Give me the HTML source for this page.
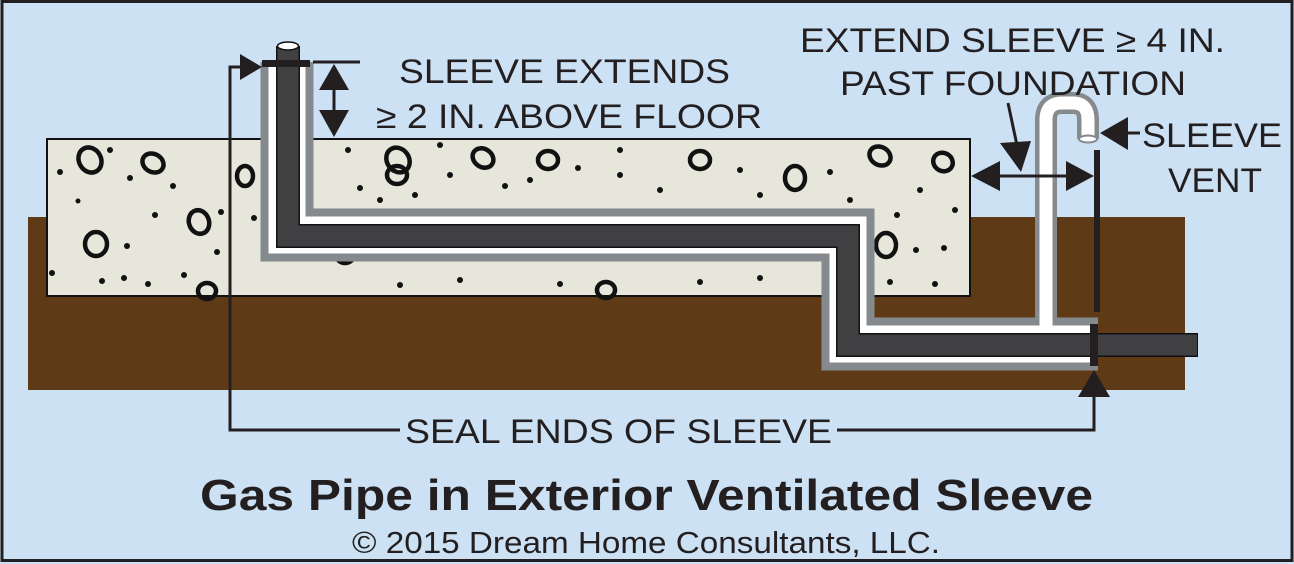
<!DOCTYPE html>
<html><head><meta charset="utf-8"><style>
html,body{margin:0;padding:0;background:#cce1f4}
svg{display:block}
text{font-family:"Liberation Sans",Arial,sans-serif;fill:#231f20}
</style></head><body>
<svg width="1294" height="564" viewBox="0 0 1294 564" xmlns="http://www.w3.org/2000/svg">
<rect x="0" y="0" width="1294" height="564" fill="#cce1f4"/>
<rect x="2" y="1.5" width="1290" height="559" fill="none" stroke="#231f20" stroke-width="3"/>
<rect x="28" y="217" width="1157" height="173" fill="#5e3a17"/>
<rect x="47" y="139" width="923" height="157" fill="#e6e6da" stroke="#111" stroke-width="2"/>
<g fill="none" stroke="#111" stroke-width="4.5">
<ellipse cx="90" cy="160" rx="11" ry="13" transform="rotate(-30 90 160)"/>
<ellipse cx="153" cy="163" rx="11" ry="9" transform="rotate(30 153 163)"/>
<ellipse cx="96" cy="244" rx="11" ry="12"/>
<ellipse cx="245" cy="176" rx="8" ry="10"/>
<ellipse cx="199" cy="222" rx="10" ry="12" transform="rotate(-20 199 222)"/>
<ellipse cx="207" cy="291" rx="9" ry="8"/>
<ellipse cx="398" cy="160" rx="11" ry="13" transform="rotate(-35 398 160)"/>
<ellipse cx="483" cy="158" rx="11" ry="9" transform="rotate(35 483 158)"/>
<ellipse cx="397" cy="175" rx="10" ry="9"/>
<ellipse cx="548" cy="160" rx="10" ry="9"/>
<ellipse cx="606" cy="290" rx="9" ry="8"/>
<ellipse cx="795" cy="178" rx="10" ry="12"/>
<ellipse cx="880" cy="156" rx="11" ry="9" transform="rotate(30 880 156)"/>
<ellipse cx="943" cy="162" rx="10" ry="9" transform="rotate(30 943 162)"/>
<ellipse cx="886" cy="245" rx="10" ry="12"/>
<ellipse cx="700" cy="160" rx="10" ry="9"/>
<ellipse cx="510" cy="250" rx="9" ry="8"/>
<ellipse cx="345" cy="255" rx="9" ry="8"/>
</g>
<g fill="#111">
<circle cx="60" cy="172" r="3"/><circle cx="110" cy="150" r="3"/><circle cx="130" cy="178" r="3"/><circle cx="78" cy="201" r="2.5"/><circle cx="155" cy="215" r="3"/><circle cx="127" cy="246" r="3"/><circle cx="52" cy="273" r="3"/><circle cx="102" cy="281" r="3"/><circle cx="124" cy="278" r="3"/><circle cx="148" cy="284" r="3"/><circle cx="184" cy="275" r="3"/><circle cx="173" cy="186" r="3"/><circle cx="221" cy="212" r="3"/><circle cx="217" cy="252" r="3"/><circle cx="254" cy="218" r="3"/>
<circle cx="348" cy="150" r="3"/><circle cx="360" cy="188" r="3"/><circle cx="415" cy="195" r="3"/><circle cx="380" cy="200" r="3"/><circle cx="450" cy="175" r="3"/><circle cx="530" cy="180" r="3"/><circle cx="505" cy="186" r="3"/><circle cx="578" cy="168" r="3"/><circle cx="620" cy="175" r="3"/><circle cx="660" cy="190" r="3"/><circle cx="740" cy="170" r="3"/><circle cx="760" cy="195" r="3"/><circle cx="830" cy="172" r="3"/><circle cx="850" cy="200" r="3"/><circle cx="920" cy="190" r="3"/><circle cx="955" cy="210" r="3"/><circle cx="897" cy="215" r="3"/><circle cx="916" cy="250" r="3"/><circle cx="944" cy="248" r="3"/><circle cx="890" cy="282" r="3"/><circle cx="935" cy="284" r="3"/><circle cx="400" cy="285" r="3"/><circle cx="460" cy="280" r="3"/><circle cx="560" cy="284" r="3"/><circle cx="700" cy="282" r="3"/><circle cx="760" cy="278" r="3"/><circle cx="620" cy="150" r="3"/><circle cx="440" cy="145" r="3"/>
</g>
<path d="M1046 322 V120 Q1046 103 1062 103 H1073 Q1088 103 1088 120 V139" fill="none" stroke="#858a8e" stroke-width="22"/>
<path d="M287 62 V235 H848 V344 H1098" fill="none" stroke="#858a8e" stroke-width="53" stroke-linejoin="miter"/>
<path d="M1046 330 V120 Q1046 103 1062 103 H1073 Q1088 103 1088 120 V139" fill="none" stroke="#fff" stroke-width="13"/>
<ellipse cx="1088" cy="139" rx="9" ry="3.5" fill="#fff" stroke="#858a8e" stroke-width="2"/>
<path d="M287 62 V235 H848 V344 H1094" fill="none" stroke="#fff" stroke-width="37" stroke-linejoin="miter"/>
<path d="M288 46 V236 H848 V345 H1198" fill="none" stroke="#111" stroke-width="24" stroke-linejoin="miter"/>
<path d="M288 46 V236 H848 V345 H1197" fill="none" stroke="#404042" stroke-width="21" stroke-linejoin="miter"/>
<ellipse cx="288" cy="46" rx="10.5" ry="4" fill="#fff" stroke="#111" stroke-width="1.5"/>
<rect x="262" y="60" width="48" height="7" fill="#231f20"/>
<rect x="1090" y="324" width="8" height="42" fill="#231f20"/>
<rect x="1094" y="150" width="6" height="162" fill="#231f20"/>
<g stroke="#231f20" stroke-width="3" fill="none">
<path d="M245 67 H230 V430 H400"/>
<path d="M837 430 H1094 V395"/>
<path d="M313 62 H360"/>
<path d="M334 85 V115"/>
<path d="M995 176 H1070"/>
<path d="M1008 103 L1018 150"/>
<path d="M1125 133 H1140"/>
</g>
<g fill="#231f20">
<polygon points="262,67 240,54 240,80"/>
<polygon points="334,64 319,90 349,90"/>
<polygon points="334,137 319,110 349,110"/>
<polygon points="971,176 1000,161 1000,191"/>
<polygon points="1094,176 1066,161 1066,191"/>
<polygon points="1021,172 1000,143 1031,141"/>
<polygon points="1100,133 1128,117 1128,150"/>
<polygon points="1094,370 1078,397 1110,397"/>
</g>
<text x="399" y="83" font-size="34" textLength="331" lengthAdjust="spacingAndGlyphs">SLEEVE EXTENDS</text>
<text x="376" y="128" font-size="34" textLength="386" lengthAdjust="spacingAndGlyphs">≥ 2 IN. ABOVE FLOOR</text>
<text x="800" y="52" font-size="34" textLength="425" lengthAdjust="spacingAndGlyphs">EXTEND SLEEVE ≥ 4 IN.</text>
<text x="840" y="95" font-size="34" textLength="346" lengthAdjust="spacingAndGlyphs">PAST FOUNDATION</text>
<text x="1142" y="147" font-size="34" textLength="140" lengthAdjust="spacingAndGlyphs">SLEEVE</text>
<text x="1168" y="192" font-size="34" textLength="94" lengthAdjust="spacingAndGlyphs">VENT</text>
<text x="405" y="443" font-size="34" textLength="427" lengthAdjust="spacingAndGlyphs">SEAL ENDS OF SLEEVE</text>
<text x="200" y="510" font-size="44" font-weight="bold" textLength="893" lengthAdjust="spacingAndGlyphs">Gas Pipe in Exterior Ventilated Sleeve</text>
<text x="352" y="553" font-size="31" textLength="588" lengthAdjust="spacingAndGlyphs">© 2015 Dream Home Consultants, LLC.</text>
</svg>
</body></html>
